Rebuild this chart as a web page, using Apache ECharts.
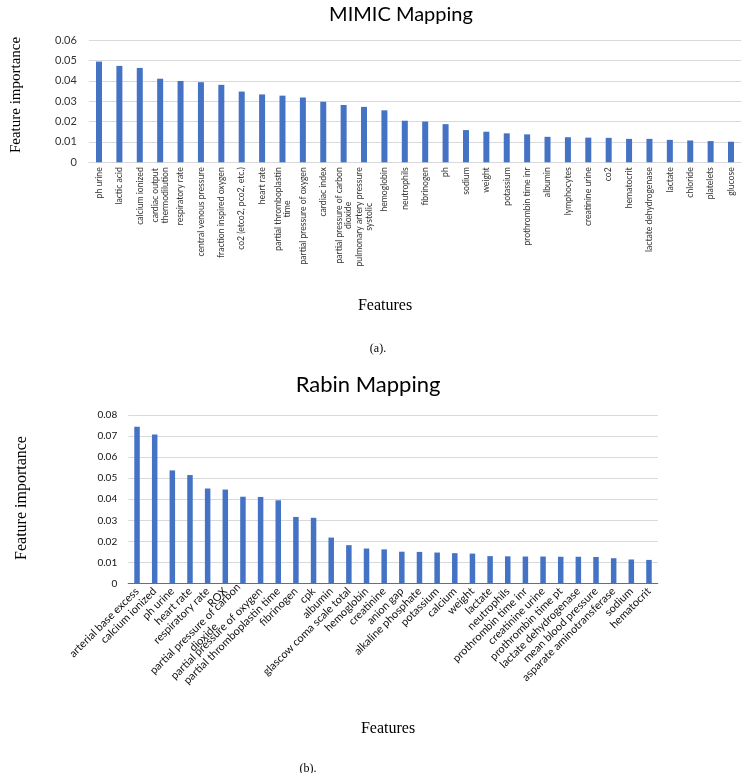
<!DOCTYPE html>
<html>
<head>
<meta charset="utf-8">
<script src="https://cdn.jsdelivr.net/npm/echarts@6/dist/echarts.min.js"></script>
<style>
html,body{margin:0;padding:0;background:#fff;}
#chart{width:756px;height:773px;}
</style>
</head>
<body>
<div id="chart"></div>
<script>
// ---- data (a) MIMIC Mapping ----
var mimicFeatures = [
  "ph urine", "lactic acid", "calcium ionized", "cardiac output\nthermodilution",
  "respiratory rate", "central venous pressure", "fraction inspired oxygen",
  "co2 (etco2, pco2, etc.)", "heart rate", "partial thromboplastin\ntime",
  "partial pressure of oxygen", "cardiac index", "partial pressure of carbon\ndioxide",
  "pulmonary artery pressure\nsystolic", "hemoglobin", "neutrophils", "fibrinogen", "ph",
  "sodium", "weight", "potassium", "prothrombin time inr", "albumin", "lymphocytes",
  "creatinine urine", "co2", "hematocrit", "lactate dehydrogenase", "lactate",
  "chloride", "platelets", "glucose"
];
var mimicValues = [
  0.0494, 0.0473, 0.0463, 0.0410, 0.0399, 0.0393, 0.0380, 0.0347, 0.0333, 0.0327,
  0.0318, 0.0297, 0.0281, 0.0272, 0.0255, 0.0204, 0.0200, 0.0187, 0.0158, 0.0150,
  0.0142, 0.0137, 0.0125, 0.0123, 0.0121, 0.0120, 0.0115, 0.0115, 0.0110, 0.0107,
  0.0104, 0.0101
];
var mimicTicks = { min: 0, max: 0.06, interval: 0.01 };

// ---- data (b) Rabin Mapping ----
var rabinFeatures = [
  "arterial base excess", "calcium ionized", "ph urine", "heart rate", "respiratory rate",
  "ROX", "partial pressure of carbon\ndioxide", "partial pressure of oxygen",
  "partial thromboplastin time", "fibrinogen", "cpk", "albumin", "glascow coma scale total",
  "hemoglobin", "creatinine", "anion gap", "alkaline phosphate", "potassium", "calcium",
  "weight", "lactate", "neutrophils", "prothrombin time inr", "creatinine urine",
  "prothrombin time pt", "lactate dehydrogenase", "mean blood pressure",
  "asparate aminotransferase", "sodium", "hematocrit"
];
var rabinValues = [
  0.0744, 0.0708, 0.0537, 0.0515, 0.0451, 0.0446, 0.0412, 0.0411, 0.0395, 0.0316,
  0.0312, 0.0218, 0.0182, 0.0166, 0.0162, 0.0151, 0.0150, 0.0147, 0.0144, 0.0142,
  0.0130, 0.0129, 0.0128, 0.0128, 0.0127, 0.0127, 0.0126, 0.0120, 0.0114, 0.0112
];
var rabinTicks = { min: 0, max: 0.08, interval: 0.01 };

var SANS = 'Lato, "Open Sans", sans-serif';
var SERIF = '"Liberation Serif", "DejaVu Serif", serif';
var BAR = '#4472C4';

function centeredLines(v) {
  return v.split('\n').map(function (s) { return '{c|' + s + '}'; }).join('\n');
}
function yFmt(v) { return v === 0 ? '0' : v.toFixed(2); }

var chart = echarts.init(document.getElementById('chart'), null, { renderer: 'canvas' });
chart.setOption({
  animation: false,
  backgroundColor: '#ffffff',
  title: [
    { text: 'MIMIC Mapping', left: 396, top: 0, textAlign: 'center',
      textStyle: { fontFamily: SANS, fontSize: 20, fontWeight: 'normal', color: '#000' } },
    { text: 'Rabin Mapping', left: 363, top: 369, textAlign: 'center',
      textStyle: { fontFamily: SANS, fontSize: 22, fontWeight: 'normal', color: '#000' } },
    { text: 'Features', left: 380, top: 293, textAlign: 'center',
      textStyle: { fontFamily: SERIF, fontSize: 16, fontWeight: 'normal', color: '#000' } },
    { text: '(a).', left: 373, top: 338, textAlign: 'center',
      textStyle: { fontFamily: SERIF, fontSize: 12, fontWeight: 'normal', color: '#000' } },
    { text: 'Features', left: 383, top: 716, textAlign: 'center',
      textStyle: { fontFamily: SERIF, fontSize: 16, fontWeight: 'normal', color: '#000' } },
    { text: '(b).', left: 303, top: 758, textAlign: 'center',
      textStyle: { fontFamily: SERIF, fontSize: 12, fontWeight: 'normal', color: '#000' } }
  ],
  graphic: [
    { type: 'text', x: 16, y: 95, rotation: Math.PI / 2,
      style: { text: 'Feature importance', fontFamily: SERIF, fontSize: 15, fill: '#000',
               textAlign: 'center', textVerticalAlign: 'middle' } },
    { type: 'text', x: 22, y: 498, rotation: Math.PI / 2,
      style: { text: 'Feature importance', fontFamily: SERIF, fontSize: 16, fill: '#000',
               textAlign: 'center', textVerticalAlign: 'middle' } }
  ],
  grid: [
    { left: 88.8, width: 652.4, top: 40, height: 122.3 },
    { left: 128.2, width: 529.6, top: 415, height: 168.5 }
  ],
  xAxis: [
    { type: 'category', gridIndex: 0, data: mimicFeatures,
      axisLine: { lineStyle: { color: '#d9d9d9', width: 1 } },
      axisTick: { show: false },
      axisLabel: { interval: 0, rotate: 90, margin: 5, color: '#333',
        formatter: centeredLines,
        rich: { c: { fontFamily: SANS, fontSize: 8.6, lineHeight: 9.5, align: 'center', color: '#333' } } } },
    { type: 'category', gridIndex: 1, data: rabinFeatures,
      axisLine: { lineStyle: { color: BAR, width: 1 } },
      axisTick: { show: false },
      axisLabel: { interval: 0, rotate: 45, margin: 6, color: '#111',
        formatter: centeredLines,
        rich: { c: { fontFamily: SANS, fontSize: 11, lineHeight: 12, align: 'center', color: '#111' } } } }
  ],
  yAxis: [
    { type: 'value', gridIndex: 0, min: mimicTicks.min, max: mimicTicks.max, interval: mimicTicks.interval,
      axisLine: { show: false }, axisTick: { show: false },
      splitLine: { lineStyle: { color: '#d9d9d9', width: 1 } },
      axisLabel: { formatter: yFmt, fontFamily: SANS, fontSize: 11, color: '#333', margin: 12 } },
    { type: 'value', gridIndex: 1, min: rabinTicks.min, max: rabinTicks.max, interval: rabinTicks.interval,
      axisLine: { show: false }, axisTick: { show: false },
      splitLine: { lineStyle: { color: '#d9d9d9', width: 1 } },
      axisLabel: { formatter: yFmt, fontFamily: SANS, fontSize: 10, color: '#111', margin: 11 } }
  ],
  series: [
    { type: 'bar', xAxisIndex: 0, yAxisIndex: 0, data: mimicValues, barWidth: 6,
      itemStyle: { color: BAR } },
    { type: 'bar', xAxisIndex: 1, yAxisIndex: 1, data: rabinValues, barWidth: 5.5,
      itemStyle: { color: BAR } }
  ]
});
</script>
</body>
</html>
